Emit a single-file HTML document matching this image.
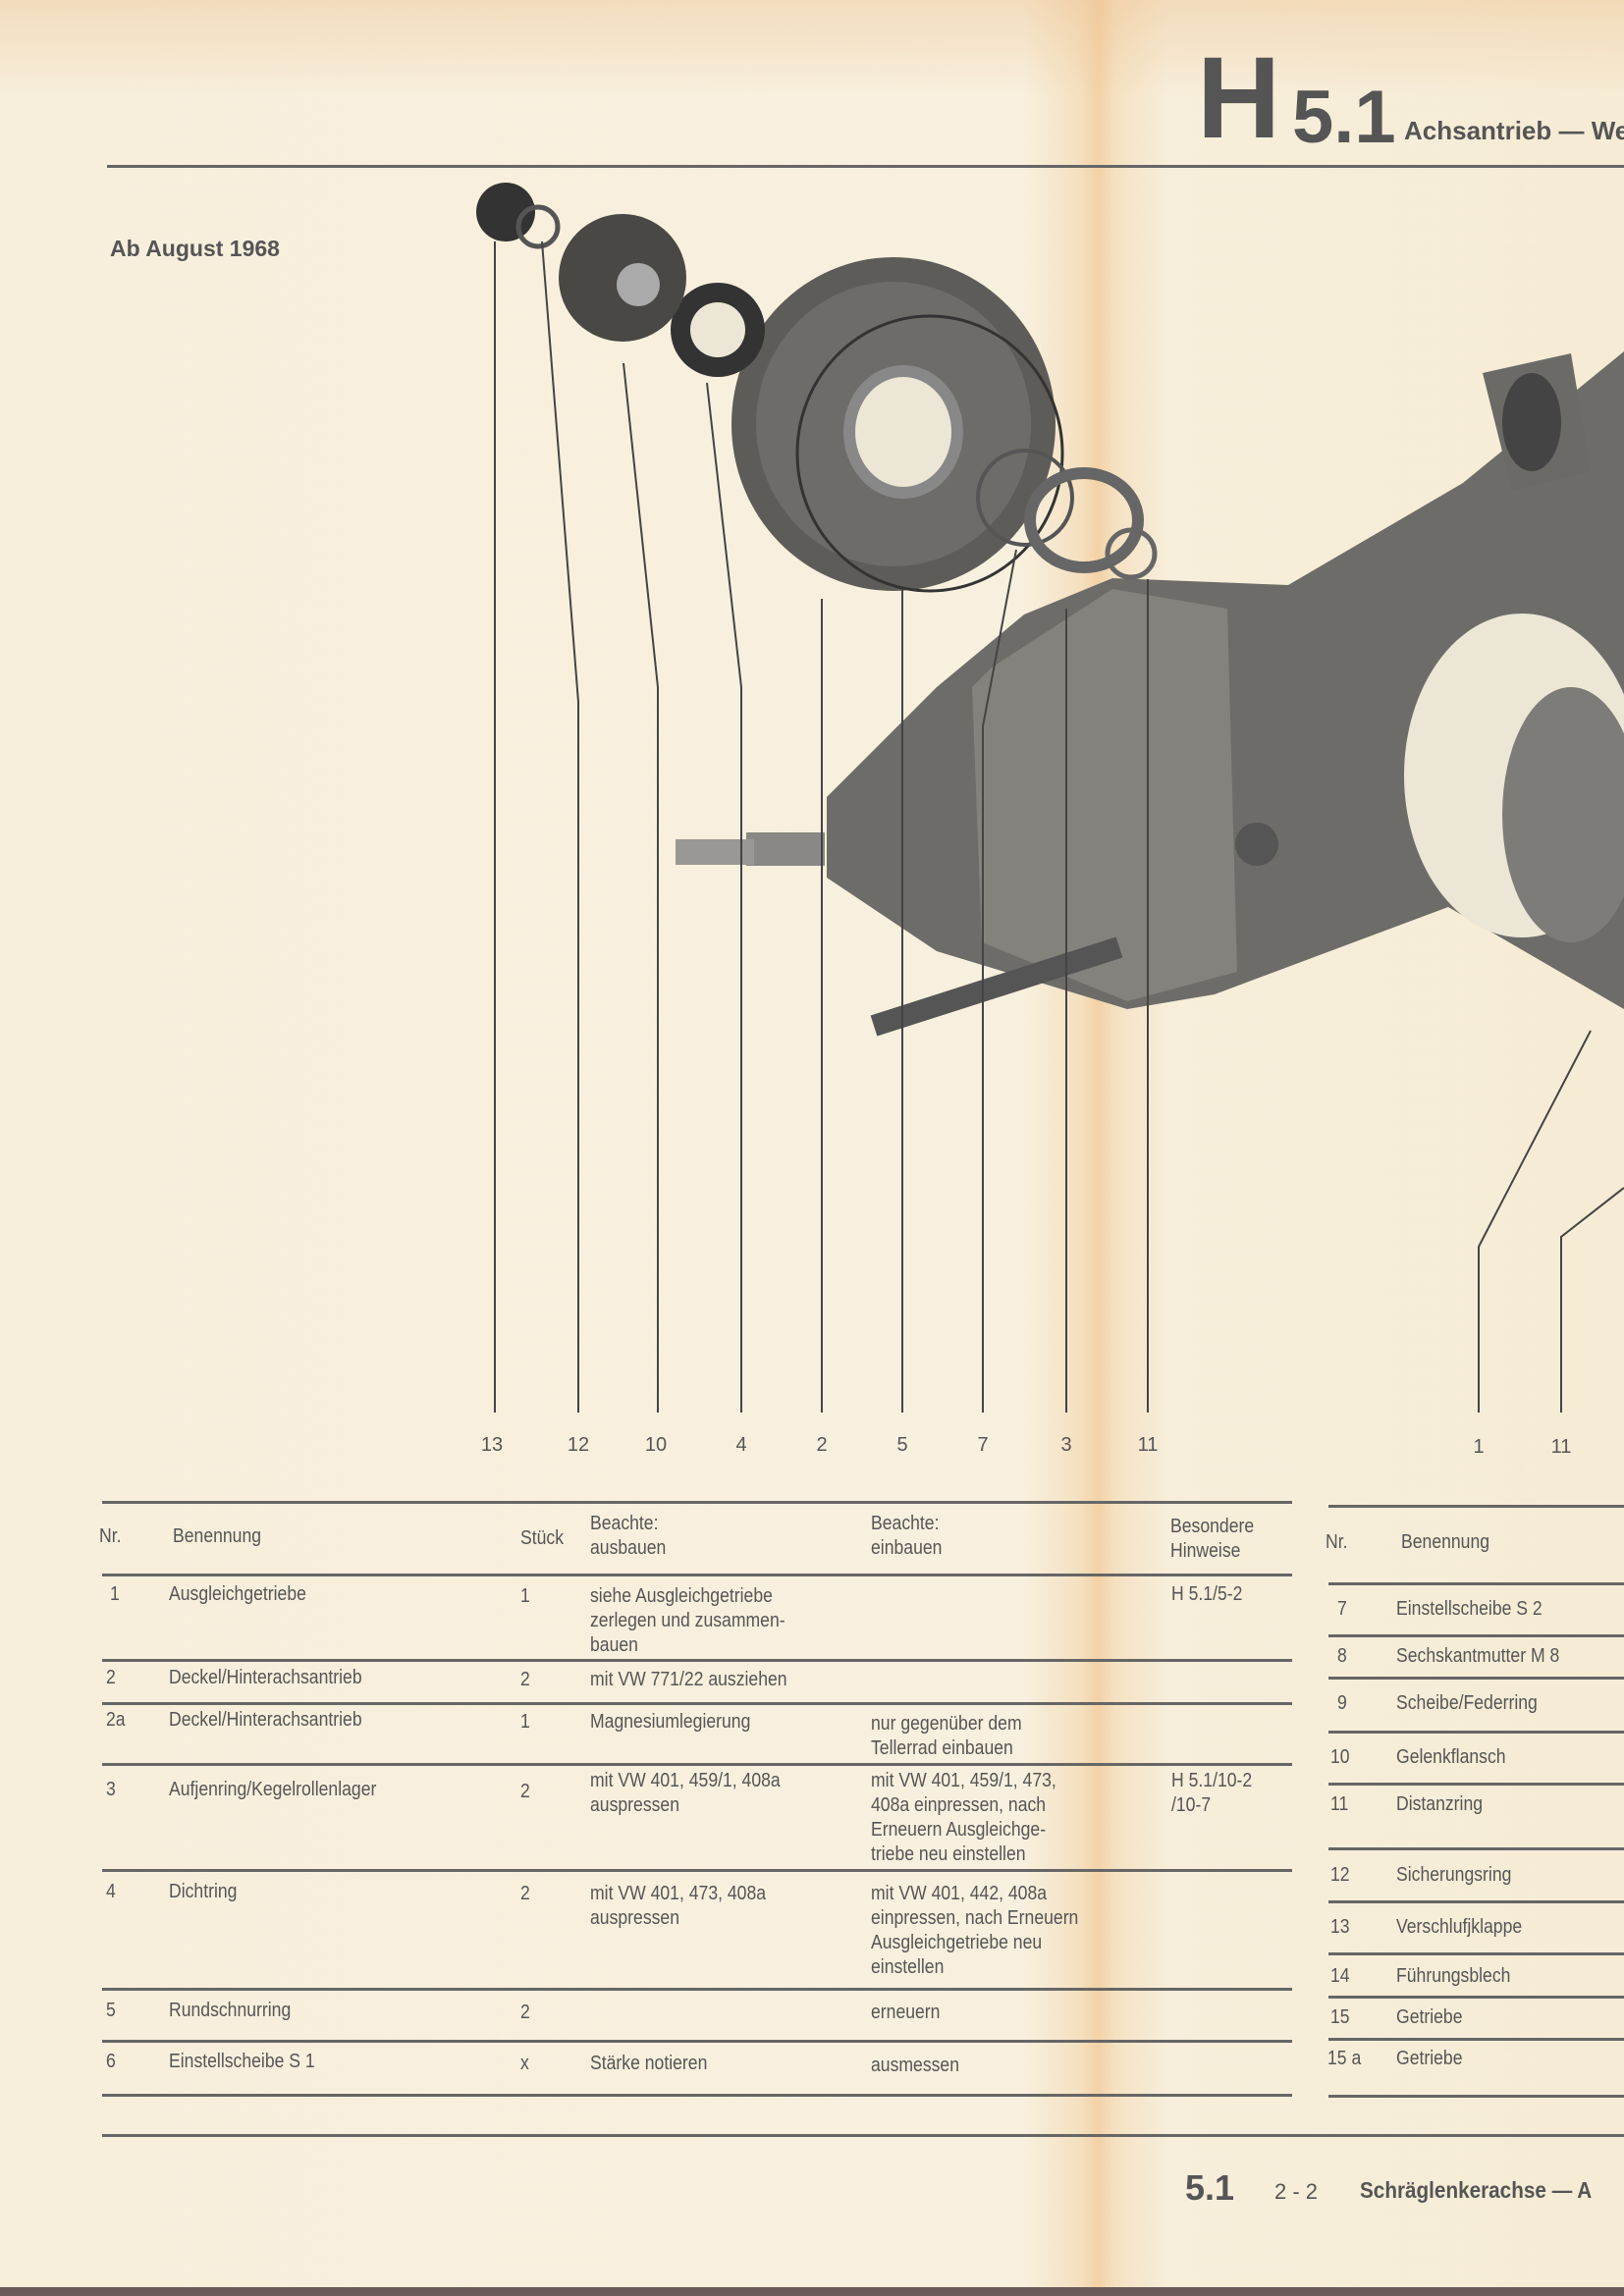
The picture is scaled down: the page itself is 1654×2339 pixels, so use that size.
<!DOCTYPE html>
<html><head><meta charset="utf-8">
<style>
html,body{margin:0;padding:0}
body{width:1654px;height:2339px;position:relative;overflow:hidden;
background:linear-gradient(90deg,#f7efdc 0%,#f8f0de 63%,#f4e0c0 66.5%,#f3d2a6 67.6%,#f5e2c4 68.8%,#f7eedb 72%,#f6ecd5 100%);
font-family:"Liberation Sans",sans-serif;color:#555}
.top{position:absolute;left:0;top:0;width:1654px;height:100px;background:linear-gradient(180deg,rgba(236,190,140,.4),rgba(236,190,140,0))}
.t{position:absolute;white-space:nowrap}
.hl{position:absolute;height:3px;background:#666}
.cell{position:absolute;font-size:20px;line-height:25px;color:#555;white-space:nowrap;transform:scaleX(.88);transform-origin:left top}
</style></head><body>
<div class="top"></div>
<div class="t" style="left:1219px;top:40px;font-size:118px;font-weight:bold;color:#555;line-height:120px">H</div>
<div class="t" style="left:1316px;top:80px;font-size:76px;font-weight:bold;color:#555;line-height:80px">5.1</div>
<div class="t" style="left:1430px;top:118px;font-size:26px;font-weight:bold;color:#555">Achsantrieb — We</div>
<div class="hl" style="left:109px;top:168px;width:1545px"></div>
<div class="t" style="left:112px;top:240px;font-size:23px;font-weight:bold;color:#555">Ab August 1968</div>

<svg style="position:absolute;left:0;top:0" width="1654" height="1500">
<!-- housing -->
<polygon points="842,812 954,700 1043,626 1133,589 1312,596 1490,492 1654,358 1654,1028 1475,924 1237,1013 1148,1028 954,969 842,894" fill="#6e6c68"/>
<polygon points="1010,680 1133,600 1250,620 1260,990 1148,1020 1000,960 990,700" fill="#84827c"/>
<polygon points="1510,380 1600,360 1620,480 1540,500" fill="#6c6a66"/>
<ellipse cx="1560" cy="430" rx="30" ry="50" fill="#444"/>
<ellipse cx="1550" cy="790" rx="120" ry="165" fill="#ece6d6"/>
<ellipse cx="1600" cy="830" rx="70" ry="130" fill="#7e7c78"/>
<rect x="760" y="848" width="80" height="34" fill="#8a8884"/>
<rect x="688" y="855" width="80" height="26" fill="#9a9894"/>
<ellipse cx="1280" cy="860" rx="22" ry="22" fill="#555"/>
<line x1="890" y1="1045" x2="1140" y2="965" stroke="#555" stroke-width="22"/>
<!-- cover -->
<ellipse cx="910" cy="432" rx="165" ry="170" fill="#5e5c58"/>
<ellipse cx="910" cy="432" rx="140" ry="145" fill="#6e6c68"/>
<ellipse cx="920" cy="440" rx="55" ry="62" fill="#ece6d6" stroke="#888" stroke-width="12"/>
<ellipse cx="947" cy="462" rx="135" ry="140" fill="none" stroke="#333" stroke-width="3"/>
<circle cx="731" cy="336" r="48" fill="#333"/><circle cx="731" cy="336" r="28" fill="#ece6d6"/>
<circle cx="634" cy="283" r="65" fill="#4a4844"/><circle cx="650" cy="290" r="22" fill="#aaa"/>
<circle cx="515" cy="216" r="30" fill="#333"/>
<circle cx="548" cy="231" r="20" fill="none" stroke="#555" stroke-width="5"/>
<circle cx="1044" cy="507" r="48" fill="none" stroke="#555" stroke-width="4"/>
<ellipse cx="1104" cy="530" rx="55" ry="48" fill="none" stroke="#666" stroke-width="12"/>
<circle cx="1152" cy="564" r="24" fill="none" stroke="#666" stroke-width="5"/>
<g fill="none" stroke="#444" stroke-width="2">
<polyline points="504,1439 504,246"/>
<polyline points="589,1439 589,715 552,246"/>
<polyline points="670,1439 670,700 635,370"/>
<polyline points="755,1439 755,700 720,390"/>
<polyline points="837,1439 837,610"/>
<polyline points="919,1439 919,600"/>
<polyline points="1001,1439 1001,740 1035,560"/>
<polyline points="1086,1439 1086,620"/>
<polyline points="1169,1439 1169,590"/>
<polyline points="1506,1439 1506,1270 1620,1050"/>
<polyline points="1590,1439 1590,1260 1654,1210"/>
</g>
<g font-family="Liberation Sans,sans-serif" font-size="20" fill="#555" text-anchor="middle">
<text x="501" y="1478">13</text><text x="589" y="1478">12</text><text x="668" y="1478">10</text>
<text x="755" y="1478">4</text><text x="837" y="1478">2</text><text x="919" y="1478">5</text>
<text x="1001" y="1478">7</text><text x="1086" y="1478">3</text><text x="1169" y="1478">11</text>
<text x="1506" y="1480">1</text><text x="1590" y="1480">11</text>
</g>
</svg>

<div class="hl" style="left:104px;top:1529px;width:1212px"></div>
<div class="hl" style="left:104px;top:1603px;width:1212px"></div>
<div class="hl" style="left:104px;top:1690px;width:1212px"></div>
<div class="hl" style="left:104px;top:1734px;width:1212px"></div>
<div class="hl" style="left:104px;top:1796px;width:1212px"></div>
<div class="hl" style="left:104px;top:1904px;width:1212px"></div>
<div class="hl" style="left:104px;top:2025px;width:1212px"></div>
<div class="hl" style="left:104px;top:2078px;width:1212px"></div>
<div class="hl" style="left:104px;top:2133px;width:1212px"></div>
<div class="hl" style="left:1353px;top:1533px;width:301px"></div>
<div class="hl" style="left:1353px;top:1612px;width:301px"></div>
<div class="hl" style="left:1353px;top:1665px;width:301px"></div>
<div class="hl" style="left:1353px;top:1708px;width:301px"></div>
<div class="hl" style="left:1353px;top:1763px;width:301px"></div>
<div class="hl" style="left:1353px;top:1816px;width:301px"></div>
<div class="hl" style="left:1353px;top:1882px;width:301px"></div>
<div class="hl" style="left:1353px;top:1936px;width:301px"></div>
<div class="hl" style="left:1353px;top:1989px;width:301px"></div>
<div class="hl" style="left:1353px;top:2033px;width:301px"></div>
<div class="hl" style="left:1353px;top:2076px;width:301px"></div>
<div class="hl" style="left:1353px;top:2134px;width:301px"></div>

<div class="cell" style="left:101px;top:1553px">Nr.</div>
<div class="cell" style="left:176px;top:1553px">Benennung</div>
<div class="cell" style="left:530px;top:1555px">Stück</div>
<div class="cell" style="left:601px;top:1540px">Beachte:<br>ausbauen</div>
<div class="cell" style="left:887px;top:1540px">Beachte:<br>einbauen</div>
<div class="cell" style="left:1192px;top:1543px">Besondere<br>Hinweise</div>

<div class="cell" style="left:112px;top:1612px">1</div>
<div class="cell" style="left:172px;top:1612px">Ausgleichgetriebe</div>
<div class="cell" style="left:530px;top:1614px">1</div>
<div class="cell" style="left:601px;top:1614px">siehe Ausgleichgetriebe<br>zerlegen und zusammen-<br>bauen</div>
<div class="cell" style="left:1193px;top:1612px">H 5.1/5-2</div>

<div class="cell" style="left:108px;top:1697px">2</div>
<div class="cell" style="left:172px;top:1697px">Deckel/Hinterachsantrieb</div>
<div class="cell" style="left:530px;top:1699px">2</div>
<div class="cell" style="left:601px;top:1699px">mit VW 771/22 ausziehen</div>

<div class="cell" style="left:108px;top:1740px">2a</div>
<div class="cell" style="left:172px;top:1740px">Deckel/Hinterachsantrieb</div>
<div class="cell" style="left:530px;top:1742px">1</div>
<div class="cell" style="left:601px;top:1742px">Magnesiumlegierung</div>
<div class="cell" style="left:887px;top:1744px">nur gegenüber dem<br>Tellerrad einbauen</div>

<div class="cell" style="left:108px;top:1811px">3</div>
<div class="cell" style="left:172px;top:1811px">Aufjenring/Kegelrollenlager</div>
<div class="cell" style="left:530px;top:1813px">2</div>
<div class="cell" style="left:601px;top:1802px">mit VW 401, 459/1, 408a<br>auspressen</div>
<div class="cell" style="left:887px;top:1802px">mit VW 401, 459/1, 473,<br>408a einpressen, nach<br>Erneuern Ausgleichge-<br>triebe neu einstellen</div>
<div class="cell" style="left:1193px;top:1802px">H 5.1/10-2<br>/10-7</div>

<div class="cell" style="left:108px;top:1915px">4</div>
<div class="cell" style="left:172px;top:1915px">Dichtring</div>
<div class="cell" style="left:530px;top:1917px">2</div>
<div class="cell" style="left:601px;top:1917px">mit VW 401, 473, 408a<br>auspressen</div>
<div class="cell" style="left:887px;top:1917px">mit VW 401, 442, 408a<br>einpressen, nach Erneuern<br>Ausgleichgetriebe neu<br>einstellen</div>

<div class="cell" style="left:108px;top:2036px">5</div>
<div class="cell" style="left:172px;top:2036px">Rundschnurring</div>
<div class="cell" style="left:530px;top:2038px">2</div>
<div class="cell" style="left:887px;top:2038px">erneuern</div>

<div class="cell" style="left:108px;top:2088px">6</div>
<div class="cell" style="left:172px;top:2088px">Einstellscheibe S 1</div>
<div class="cell" style="left:530px;top:2090px">x</div>
<div class="cell" style="left:601px;top:2090px">Stärke notieren</div>
<div class="cell" style="left:887px;top:2092px">ausmessen</div>

<div class="cell" style="left:1350px;top:1559px">Nr.</div>
<div class="cell" style="left:1427px;top:1559px">Benennung</div>
<div class="cell" style="left:1362px;top:1627px">7</div><div class="cell" style="left:1422px;top:1627px">Einstellscheibe S 2</div>
<div class="cell" style="left:1362px;top:1675px">8</div><div class="cell" style="left:1422px;top:1675px">Sechskantmutter M 8</div>
<div class="cell" style="left:1362px;top:1723px">9</div><div class="cell" style="left:1422px;top:1723px">Scheibe/Federring</div>
<div class="cell" style="left:1355px;top:1778px">10</div><div class="cell" style="left:1422px;top:1778px">Gelenkflansch</div>
<div class="cell" style="left:1355px;top:1826px">11</div><div class="cell" style="left:1422px;top:1826px">Distanzring</div>
<div class="cell" style="left:1355px;top:1898px">12</div><div class="cell" style="left:1422px;top:1898px">Sicherungsring</div>
<div class="cell" style="left:1355px;top:1951px">13</div><div class="cell" style="left:1422px;top:1951px">Verschlufjklappe</div>
<div class="cell" style="left:1355px;top:2001px">14</div><div class="cell" style="left:1422px;top:2001px">Führungsblech</div>
<div class="cell" style="left:1355px;top:2043px">15</div><div class="cell" style="left:1422px;top:2043px">Getriebe</div>
<div class="cell" style="left:1352px;top:2085px">15 a</div><div class="cell" style="left:1422px;top:2085px">Getriebe</div>

<div class="hl" style="left:104px;top:2174px;width:1550px"></div>
<div class="t" style="left:1207px;top:2208px;font-size:36px;font-weight:bold;color:#555">5.1</div>
<div class="t" style="left:1298px;top:2220px;font-size:22px;color:#555">2 - 2</div>
<div class="t" style="left:1385px;top:2218px;font-size:23px;font-weight:bold;color:#555;transform:scaleX(.9);transform-origin:left">Schräglenkerachse — A</div>
<div style="position:absolute;left:0;top:2330px;width:1654px;height:9px;background:#6a5a5a"></div>
</body></html>
